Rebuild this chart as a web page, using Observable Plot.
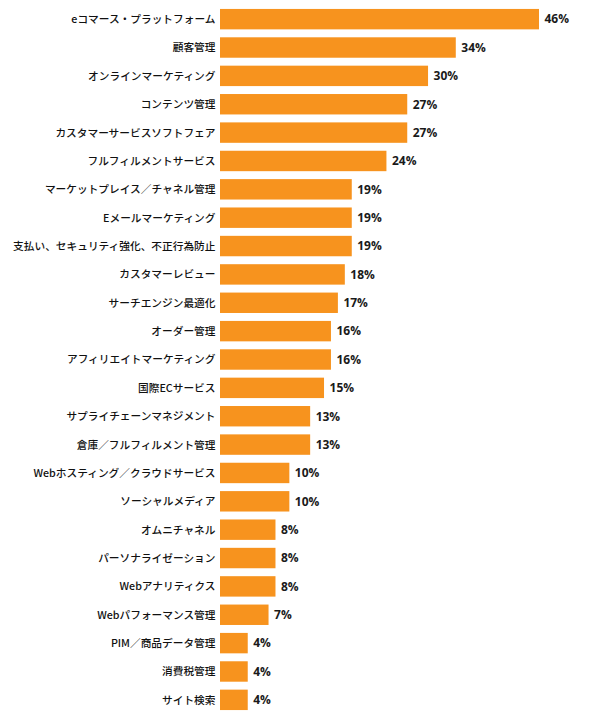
<!DOCTYPE html>
<html>
<head>
<meta charset="utf-8">
<script src="https://cdn.jsdelivr.net/npm/d3@7"></script>
<script src="https://cdn.jsdelivr.net/npm/@observablehq/plot@0.6"></script>
<style>
  html, body { margin: 0; padding: 0; background: #fff; }
  #chart { width: 600px; }
</style>
</head>
<body>
<div id="chart"></div>
<script>
const categories = [
  "eコマース・プラットフォーム",
  "顧客管理",
  "オンラインマーケティング",
  "コンテンツ管理",
  "カスタマーサービスソフトフェア",
  "フルフィルメントサービス",
  "マーケットプレイス／チャネル管理",
  "Eメールマーケティング",
  "支払い、セキュリティ強化、不正行為防止",
  "カスタマーレビュー",
  "サーチエンジン最適化",
  "オーダー管理",
  "アフィリエイトマーケティング",
  "国際ECサービス",
  "サプライチェーンマネジメント",
  "倉庫／フルフィルメント管理",
  "Webホスティング／クラウドサービス",
  "ソーシャルメディア",
  "オムニチャネル",
  "パーソナライゼーション",
  "Webアナリティクス",
  "Webパフォーマンス管理",
  "PIM／商品データ管理",
  "消費税管理",
  "サイト検索"
];
const values = [46, 34, 30, 27, 27, 24, 19, 19, 19, 18, 17, 16, 16, 15, 13, 13, 10, 10, 8, 8, 8, 7, 4, 4, 4];

const data = categories.map((c, i) => ({category: c, value: values[i]}));

const chart = Plot.plot({
  width: 600,
  height: 720,
  marginLeft: 220,
  marginRight: 61,
  marginTop: 1,
  marginBottom: 2,
  style: {fontFamily: "'Noto Sans CJK JP', sans-serif", background: "#fff"},
  x: {domain: [0, 46], axis: null},
  y: {domain: categories, padding: 0.28, round: false, axis: null},
  marks: [
    Plot.barX(data, {x: "value", y: "category", fill: "#F7931E"}),
    Plot.text(data, {
      x: "value", y: "category", text: d => d.value + "%",
      textAnchor: "start", dx: 5, fill: "#1a1a1a",
      fontFamily: "'Open Sans', sans-serif", fontWeight: "bold", fontSize: 12
    }),
    Plot.axisY({tickSize: 0, tickPadding: 5, fontSize: 10.7, fontWeight: 500, fill: "#111", label: null, fontFamily: "'Noto Sans CJK JP', sans-serif"}),
    Plot.ruleX([0], {y1: categories[0], y2: categories[categories.length - 1], insetTop: -15, insetBottom: -13, stroke: "#888", strokeWidth: 1})
  ]
});
document.getElementById("chart").appendChild(chart);
</script>
</body>
</html>
